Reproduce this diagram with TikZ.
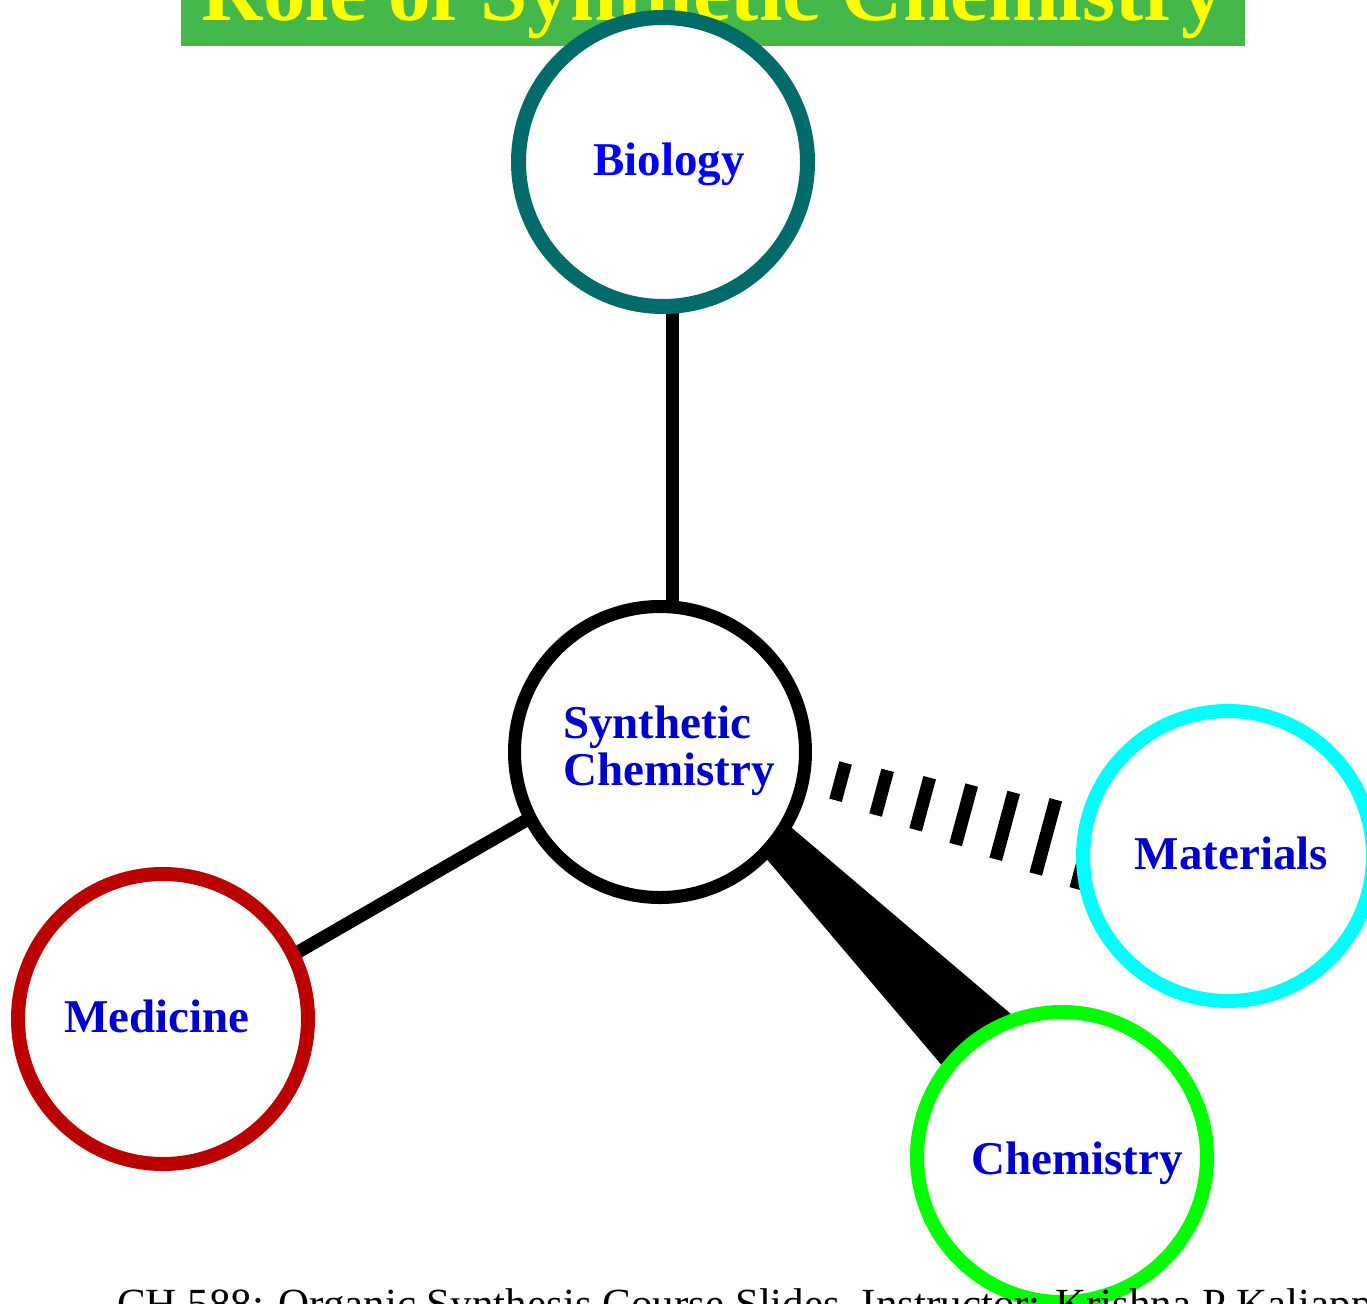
\documentclass[tikz,border=0pt]{standalone}
\usepackage{fontspec}
\setmainfont{Liberation Serif}
\usetikzlibrary{calc,backgrounds}
\definecolor{bannergreen}{HTML}{44B84A}
\definecolor{titleyellow}{HTML}{FFFF00}
\definecolor{biocol}{HTML}{006B68}
\definecolor{medcol}{HTML}{BB0000}
\definecolor{matcol}{HTML}{00FFFF}
\definecolor{chemcol}{HTML}{00FF00}
\definecolor{labblue}{HTML}{0000CC}
\definecolor{bioblue}{HTML}{0000FF}
\begin{document}
\begin{tikzpicture}[x=1pt,y=-1pt,
  ring/.style={circle,draw,line width=14pt,fill=white,minimum size=290pt,inner sep=0pt},
  lab/.style={text=labblue,font=\fontsize{47}{47}\selectfont\bfseries,inner sep=0pt,anchor=base},
  conn/.style={line width=13pt},
  hashbar/.style={line width=13pt},
]
\useasboundingbox (0,0) rectangle (1367,1303);
% banner and title
\fill[bannergreen] (181,-10) rectangle (1245,46);
\node[anchor=base,inner sep=0pt,text=titleyellow,font=\fontsize{85}{85}\selectfont\bfseries] (title) at (713,21) {Role of Synthetic Chemistry};
% circles
\node[ring,draw=biocol,line width=15pt,minimum size=289pt] (bio) at (663,162) {};
\node[ring,draw=black,line width=13pt,minimum size=291pt] (syn) at (660,752) {};
\node[ring,draw=matcol] (mat) at (1228,856) {};
\node[ring,draw=medcol] (med) at (163,1019) {};
\node[ring,draw=chemcol] (chem) at (1062,1157) {};
% connectors
\begin{pgfonlayer}{background}
\draw[conn] ($(syn)+(12,0)$) -- ($(bio)+(9,0)$);
\draw[conn] ($(syn)+(0,-9)$) -- ($(med)+(0,11)$);
\coordinate (w1) at ($(syn)+(52,24)$);
\coordinate (w2) at ($(chem)+(-32,-63)$);
\fill ($(w1)!12.2pt!90:(w2)$) -- ($(w2)!48.8pt!-90:(w1)$) -- ($(w2)!48.8pt!90:(w1)$) -- ($(w1)!12.2pt!-90:(w2)$) -- cycle;
\coordinate (h1) at ($(syn)+(0,-19)$);
\coordinate (h2) at ($(mat)+(0,30)$);
\foreach \k in {0,...,6}{
  \pgfmathsetmacro\dd{187+42.5*\k}
  \pgfmathsetmacro\hh{2.5+0.09*\dd}
  \coordinate (hc) at ($(h1)!\dd pt!(h2)$);
  \draw[hashbar] ($(hc)!\hh pt!90:(h2)$) -- ($(hc)!\hh pt!-90:(h2)$);
}
\end{pgfonlayer}
% labels
\node[lab,text=bioblue] (biolab) at (669,175) {Biology};
\node[lab,anchor=base west,align=left] (synlab) at (563,785) {Synthetic\\Chemistry};
\node[lab] (matlab) at (1231.5,869) {Materials};
\node[lab] (medlab) at (157,1032) {Medicine};
\node[lab] (chemlab) at (1077,1174) {Chemistry};
% footer
\node[anchor=base west,inner sep=0pt,font=\fontsize{43}{43}\selectfont] (foot) at (117,1318) {CH 588: Organic Synthesis Course Slides, Instructor: Krishna P Kaliappan};
\end{tikzpicture}
\end{document}
